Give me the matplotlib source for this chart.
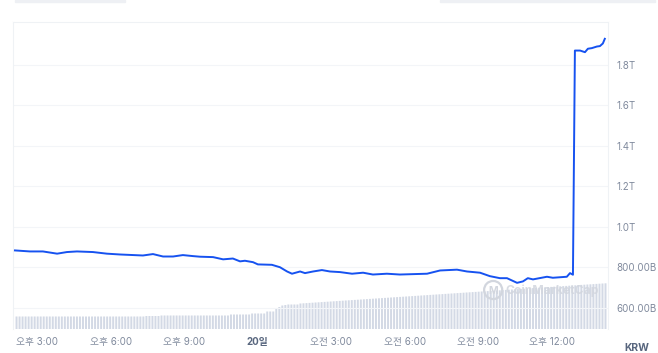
import matplotlib
matplotlib.use("Agg")
import matplotlib.pyplot as plt
import numpy as np

plt.rcParams['font.family'] = ['Inter', 'Noto Sans CJK KR', 'DejaVu Sans']

# ---- data ----
# time in hours since 19th 00:00 ; value in billions KRW
times = [14.10, 14.71, 15.24, 15.82, 16.22, 16.63, 17.28, 17.85, 18.38, 19.32,
         19.73, 20.14, 20.55, 20.95, 21.36, 21.65, 22.18, 22.59, 22.99, 23.28,
         23.48, 23.81, 24.01, 24.58, 24.91, 25.20, 25.40, 25.73, 25.93, 26.26,
         26.62, 26.95, 27.36, 27.85, 28.30, 28.70, 29.27, 29.80, 30.91, 31.44,
         32.13, 32.54, 33.07, 33.47, 33.88, 34.17, 34.58, 34.82, 35.02, 35.23,
         35.80, 36.04, 36.61, 36.74, 36.86, 36.94, 37.15, 37.35, 37.47, 37.63,
         37.84, 37.96, 38.08, 38.16]
values = [884, 879, 879, 868, 876, 879, 876, 868, 864, 859,
          866, 854, 854, 861, 856, 853, 851, 840, 844, 830,
          833, 826, 815, 813, 801, 780, 769, 780, 772, 780,
          787, 780, 777, 769, 774, 765, 769, 765, 769, 785,
          789, 780, 774, 757, 747, 747, 724, 731, 747, 741,
          754, 749, 754, 772, 764, 1871, 1871, 1863, 1880, 1883,
          1891, 1893, 1906, 1929]

# volume bars (relative units)
volume = ([12.5] * 43 + [13.0] * 5 + [13.5] * 23 + [14.5] * 7 + [15.5] * 5 +
          [17.5] * 3 + [20.0, 22.0, 23.5, 24.0, 24.5, 24.5, 24.5, 24.5] +
          [25.5, 25.7, 25.9, 26.1, 26.3, 26.5, 26.7, 26.9, 27.1, 27.3,
           27.5, 27.7, 27.9, 28.1, 28.3, 28.5, 28.7, 28.9, 29.1, 29.3,
           29.5, 29.7, 29.9, 30.1, 30.3, 30.5, 30.7, 30.9, 31.1, 31.3,
           31.5, 31.7, 31.9, 32.1, 32.3, 32.5, 32.7, 32.9, 33.1, 33.3,
           33.5, 33.7, 33.9, 34.1, 34.3, 34.5, 34.7, 34.9, 35.1, 35.3,
           35.5, 35.7, 35.9, 36.1, 36.3, 36.5, 36.7, 36.9, 37.1, 37.3,
           37.5, 37.7, 37.9, 38.1, 38.3, 38.5, 38.7, 38.9, 39.1, 39.3,
           39.5, 39.7, 39.9, 40.1, 40.3, 40.5, 40.7, 40.9, 41.1, 41.3,
           41.5, 41.7, 41.9, 42.1, 42.3, 42.5, 42.7, 42.9, 43.1, 43.3,
           43.5, 43.7, 43.9, 44.1, 44.3, 44.5, 44.7, 44.9, 45.1, 45.3,
           45.5, 45.7])

xtick_pos = [15, 18, 21, 24, 27, 30, 33, 36]
xtick_labels = ['오후 3:00', '오후 6:00', '오후 9:00', '20일', '오전 3:00',
                '오전 6:00', '오전 9:00', '오후 12:00']
ytick_pos = [600, 800, 1000, 1200, 1400, 1600, 1800]
ytick_labels = ['600.00B', '800.00B', '1.0T', '1.2T', '1.4T', '1.6T', '1.8T']

# ---- figure ----
W, H = 658, 353
fig = plt.figure(figsize=(W / 100, H / 100), dpi=100)
fig.patch.set_facecolor('white')

l, r, t, b = 13, 608, 22, 329
ax = fig.add_axes([l / W, (H - b) / H, (r - l) / W, (b - t) / H])
ax2 = ax.twinx()
ax.set_zorder(ax2.get_zorder() + 1)
ax.patch.set_visible(False)

# volume bars
bar_times = 14.164 + np.arange(len(volume)) * 0.1232
ax2.bar(bar_times, volume, width=0.08, color='#d3d9e5', linewidth=0, zorder=1,
        snap=False)
ax2.set_ylim(0, 307)
ax2.set_yticks([])
for s in ax2.spines.values():
    s.set_visible(False)

# price line
ax.plot(times, values, color='#1652f0', linewidth=1.4, solid_joinstyle='round', zorder=3)

ax.set_xlim(14.02, 38.29)
ax.set_ylim(496, 2012)

ax.set_yticks(ytick_pos)
ax.set_yticklabels(ytick_labels)
ax.yaxis.tick_right()
ax.tick_params(axis='y', length=0, pad=6, labelsize=7, labelcolor='#808a9d')
ax.set_xticks(xtick_pos)
ax.set_xticklabels(xtick_labels)
ax.tick_params(axis='x', length=0, pad=6, labelsize=7, labelcolor='#808a9d')
for lbl in ax.get_xticklabels():
    if lbl.get_text() == '20일':
        lbl.set_fontweight('bold')
        lbl.set_color('#58667e')

ax.grid(axis='y', color='#f3f5f8', linewidth=0.8, zorder=0)
ax.grid(axis='x', visible=False)
for name, s in ax.spines.items():
    s.set_color('#eff2f5')
    s.set_linewidth(0.8)
ax.spines['bottom'].set_visible(False)

# watermark
ax.scatter([0.807], [0.127], s=170, facecolors='none', edgecolors='#d2d6de',
           linewidths=1.6, transform=ax.transAxes, zorder=2)
ax.text(0.807, 0.125, 'M', transform=ax.transAxes, ha='center', va='center',
        fontsize=7.5, fontweight='bold', color='#d2d6de', zorder=2)
ax.text(0.828, 0.125, 'CoinMarketCap', transform=ax.transAxes, ha='left', va='center',
        fontsize=8.8, fontweight='bold', color='#d2d6de', alpha=0.85, zorder=2)

# KRW label
fig.text(637 / W, 1 - 348 / H, 'KRW', ha='center', va='center', fontsize=7.5,
         fontweight='bold', color='#58667e')

# faint UI shapes at top
from matplotlib.patches import Rectangle
fig.patches.append(Rectangle((15 / W, 1 - 2 / H), 110 / W, 2 / H, transform=fig.transFigure,
                             color='#eef0f4', zorder=0))
fig.patches.append(Rectangle((440 / W, 1 - 2 / H), 215 / W, 2 / H, transform=fig.transFigure,
                             color='#eef0f4', zorder=0))

fig.savefig('out.png', dpi=100, facecolor='white')
